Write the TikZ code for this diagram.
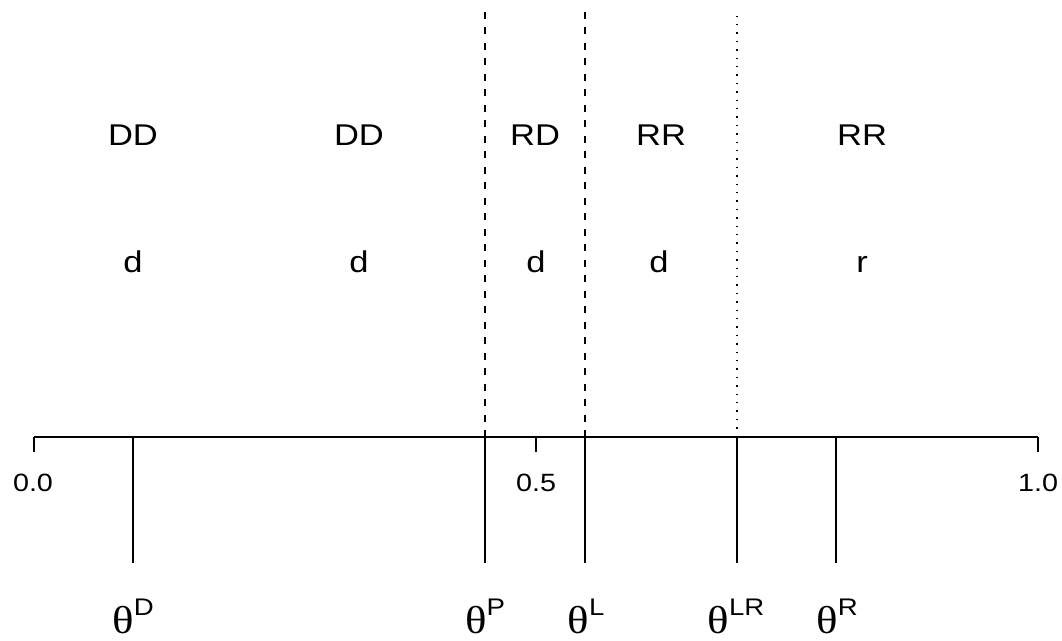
\documentclass[tikz,border=0pt]{standalone}
\usepackage{fontspec}
\setmainfont[FakeStretch=1.15]{Liberation Sans}
\newfontfamily\greekfont[FakeStretch=1.15]{Liberation Serif}
\usetikzlibrary{positioning}

\newcommand{\thlabel}[1]{{\greekfont\fontsize{39}{40}\selectfont θ}\raisebox{18pt}{\fontsize{24}{26}\selectfont #1}}

\begin{document}
\begin{tikzpicture}[x=1pt,y=-1pt,
        axisline/.style={line width=1.4pt},
        cutline/.style={line width=1.4pt, dash pattern=on 7pt off 8.5pt},
        dotline/.style={line width=1.1pt, dash pattern=on 1.4pt off 7pt},
        region/.style={font=\fontsize{30}{36}\selectfont, inner sep=0pt, anchor=base},
        ticklab/.style={font=\fontsize{25}{30}\selectfont, inner sep=0pt, anchor=base},
        thlab/.style={inner sep=0pt, anchor=base},
    ]
    \useasboundingbox (0,0) rectangle (1062,640);
    % axis with ticks
    \coordinate (a0) at (34,437);
    \coordinate (a5) at (536,437);
    \coordinate (a1) at (1038,437);
    \draw[axisline] (a0) -- (a1);
    \foreach \n in {a0,a5,a1}
        \draw[axisline] (\n) -- ++(0,15);
    \node[ticklab] (l0) at (33,491) {0.0};
    \node[ticklab] (l5) at (536,491) {0.5};
    \node[ticklab] (l1) at (1038,491) {1.0};
    % thresholds
    \foreach \n/\x in {thD/133, thP/485, thL/585, thLR/737, thR/836} {
        \coordinate (\n) at (\x,437);
        \coordinate (\n-b) at (\x,563);
        \draw[axisline] (\n) -- (\n-b);
    }
    \node[thlab] (tD) at (133,633) {\thlabel{D}};
    \node[thlab] (tP) at (485,633) {\thlabel{P}};
    \node[thlab] (tL) at (586,633) {\thlabel{L}};
    \node[thlab] (tLR) at (736,633) {\thlabel{LR}};
    \node[thlab] (tR) at (837,633) {\thlabel{R}};
    % boundaries of the regions
    \coordinate (thP-t) at (485,8);
    \coordinate (thL-t) at (585,8);
    \coordinate (thLR-t) at (737,13);
    \draw[cutline] (thP) -- (thP-t);
    \draw[cutline] (thL) -- (thL-t);
    \draw[dotline] (thLR) -- (thLR-t);
    % genotypes and phenotypes
    \node[region] (g1) at (133,145) {DD};
    \node[region] (g2) at (359,145) {DD};
    \node[region] (g3) at (535,145) {RD};
    \node[region] (g4) at (661,145) {RR};
    \node[region] (g5) at (862,145) {RR};
    \node[region] (p1) at (133,272) {d};
    \node[region] (p2) at (359,272) {d};
    \node[region] (p3) at (536,272) {d};
    \node[region] (p4) at (659,272) {d};
    \node[region] (p5) at (862,272) {r};
\end{tikzpicture}
\end{document}
